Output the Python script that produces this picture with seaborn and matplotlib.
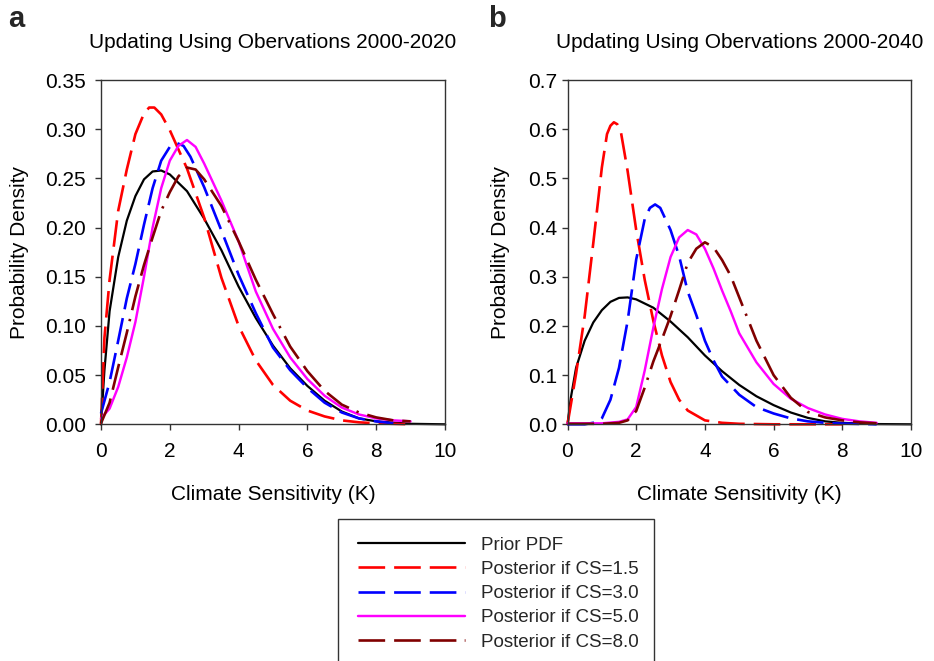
import matplotlib
matplotlib.use("Agg")
import matplotlib.pyplot as plt
import seaborn as sns
from matplotlib.lines import Line2D
from matplotlib.patches import Rectangle
from matplotlib.ticker import FormatStrFormatter

# ---------------- data ----------------
PRIOR_X = [0, 0.1, 0.25, 0.5, 0.75, 1, 1.25, 1.5, 1.75, 2, 2.5, 3, 3.5, 4, 4.5, 5,
           5.5, 6, 6.5, 7, 7.5, 8, 9, 10]
PRIOR_Y = [0, 0.055, 0.115, 0.17, 0.207, 0.232, 0.249, 0.257, 0.258, 0.254, 0.237,
           0.209, 0.177, 0.14, 0.108, 0.08, 0.057, 0.039, 0.024, 0.013, 0.006, 0.003,
           0.0005, 0]

# Panel a: observations 2000-2020
A_CS15_X = [0, 0.1, 0.25, 0.5, 0.75, 1, 1.25, 1.4, 1.55, 1.75, 2, 2.5, 3, 3.5, 4, 4.5,
            5, 5.5, 6, 6.5, 7, 7.5, 8, 9]
A_CS15_Y = [0, 0.088, 0.147, 0.217, 0.259, 0.295, 0.316, 0.322, 0.322, 0.315, 0.299,
            0.26, 0.21, 0.149, 0.1, 0.065, 0.04, 0.024, 0.014, 0.008, 0.004, 0.002,
            0.001, 0]
A_CS30_X = [0, 0.25, 0.5, 0.75, 1, 1.25, 1.5, 1.75, 2, 2.2, 2.4, 2.6, 3, 3.5, 4, 4.5,
            5, 5.5, 6, 6.5, 7, 7.5, 8, 8.5]
A_CS30_Y = [0.011, 0.043, 0.085, 0.128, 0.163, 0.203, 0.24, 0.268, 0.282, 0.286,
            0.283, 0.272, 0.241, 0.197, 0.152, 0.113, 0.078, 0.055, 0.037, 0.022,
            0.012, 0.006, 0.003, 0.001]
A_CS50_X = [0, 0.25, 0.5, 0.75, 1, 1.25, 1.5, 1.75, 2, 2.25, 2.5, 2.75, 3, 3.5, 4,
            4.5, 5, 5.5, 6, 6.5, 7, 7.5, 8, 8.5, 9]
A_CS50_Y = [0.006, 0.016, 0.038, 0.068, 0.104, 0.15, 0.2, 0.24, 0.268, 0.283, 0.289,
            0.282, 0.265, 0.2275, 0.186, 0.135, 0.097, 0.068, 0.046, 0.029, 0.017,
            0.010, 0.006, 0.004, 0.003]
A_CS80_X = [0, 0.25, 0.5, 0.75, 1, 1.25, 1.5, 1.75, 2, 2.25, 2.5, 2.75, 3, 3.5, 4,
            4.5, 5, 5.5, 6, 6.5, 7, 7.5, 8, 8.5, 9]
A_CS80_Y = [0.001, 0.022, 0.058, 0.093, 0.13, 0.162, 0.19, 0.217, 0.236, 0.252, 0.261,
            0.259, 0.249, 0.222, 0.186, 0.147, 0.112, 0.079, 0.054, 0.034, 0.02,
            0.012, 0.007, 0.004, 0.003]

# Panel b: observations 2000-2040
B_CS15_X = [0, 0.25, 0.5, 0.75, 1, 1.15, 1.25, 1.35, 1.45, 1.55, 1.75, 2, 2.25, 2.5,
            2.75, 3, 3.25, 3.5, 4, 4.5, 5, 6, 7, 8]
B_CS15_Y = [0, 0.103, 0.22, 0.368, 0.522, 0.59, 0.607, 0.614, 0.61, 0.596, 0.515,
            0.395, 0.293, 0.21, 0.14, 0.086, 0.05, 0.028, 0.008, 0.003, 0.001, 0, 0, 0]
B_CS30_X = [0, 0.5, 0.9, 1.0, 1.25, 1.5, 1.75, 2.0, 2.25, 2.4, 2.55, 2.7, 3.0, 3.25,
            3.5, 3.75, 4.0, 4.25, 4.5, 5.0, 5.5, 6.0, 6.5, 7.0, 7.5, 8.0, 9.0]
B_CS30_Y = [0, 0, 0.005, 0.012, 0.05, 0.115, 0.21, 0.335, 0.418, 0.44, 0.447, 0.44,
            0.395, 0.342, 0.27, 0.222, 0.17, 0.13, 0.097, 0.06, 0.035, 0.022, 0.012,
            0.006, 0.003, 0.0015, 0]
B_CS50_X = [0, 0.5, 1.0, 1.5, 1.75, 2.0, 2.25, 2.5, 2.75, 3.0, 3.25, 3.5, 3.75, 4.0,
            4.25, 4.5, 4.75, 5.0, 5.5, 6.0, 6.5, 7.0, 7.5, 8.0, 8.5, 9.0]
B_CS50_Y = [0.002, 0.002, 0.002, 0.005, 0.01, 0.035, 0.11, 0.197, 0.275, 0.34, 0.38,
            0.395, 0.386, 0.357, 0.317, 0.272, 0.23, 0.185, 0.126, 0.082, 0.052,
            0.033, 0.02, 0.011, 0.006, 0.003]
B_CS80_X = [0, 0.5, 1.0, 1.5, 1.75, 2.0, 2.25, 2.5, 2.75, 3.0, 3.25, 3.5, 3.75, 4.0,
            4.25, 4.5, 4.75, 5.0, 5.5, 6.0, 6.5, 7.0, 7.5, 8.0, 8.5, 9.0]
B_CS80_Y = [0.001, 0.001, 0.001, 0.003, 0.008, 0.027, 0.075, 0.128, 0.173, 0.22,
            0.273, 0.328, 0.357, 0.37, 0.36, 0.334, 0.302, 0.258, 0.17, 0.1, 0.054,
            0.025, 0.014, 0.008, 0.004, 0.002]

LABELS = ["Prior PDF", "Posterior if CS=1.5", "Posterior if CS=3.0",
          "Posterior if CS=5.0", "Posterior if CS=8.0"]
TITLES = ["Updating Using Obervations 2000-2020", "Updating Using Obervations 2000-2040"]
PANEL_LETTERS = ["a", "b"]
XTICKS = [0, 2, 4, 6, 8, 10]
A_YTICKS = [0.00, 0.05, 0.10, 0.15, 0.20, 0.25, 0.30, 0.35]
B_YTICKS = [0.0, 0.1, 0.2, 0.3, 0.4, 0.5, 0.6, 0.7]

# ---------------- styles ----------------
COLORS = ["#000000", "#FF0000", "#0000FF", "#FF00FF", "#800000"]
DASH = (0, (10.1, 3.4))
DASHDOT = (0, (10.1, 3.4, 10.1, 3.4, 10.1, 3.15, 0.9, 3.4))
STYLES = ["-", DASH, DASH, "-", DASHDOT]
WIDTHS = [1.6, 1.9, 1.9, 1.75, 1.9]

sns.set_theme(style="white")
plt.rcParams["font.family"] = ["Liberation Sans", "DejaVu Sans"]

W, H = 934, 661
fig = plt.figure(figsize=(W / 100, H / 100), dpi=100)


def fx(px):
    return px / W


def fy(py):
    return 1 - py / H


axA = fig.add_axes([fx(101), fy(424.3), (445 - 101) / W, (424.3 - 80) / H])
axB = fig.add_axes([fx(567.5), fy(424.3), (911 - 567.5) / W, (424.3 - 80) / H])

panels = [
    (axA, [(PRIOR_X, PRIOR_Y), (A_CS15_X, A_CS15_Y), (A_CS30_X, A_CS30_Y),
           (A_CS50_X, A_CS50_Y), (A_CS80_X, A_CS80_Y)], A_YTICKS, "%.2f", 0.35, 6.8),
    (axB, [(PRIOR_X, PRIOR_Y), (B_CS15_X, B_CS15_Y), (B_CS30_X, B_CS30_Y),
           (B_CS50_X, B_CS50_Y), (B_CS80_X, B_CS80_Y)], B_YTICKS, "%.1f", 0.7, 3.5),
]

for i, (ax, series, yticks, fmt, ymax, ypad) in enumerate(panels):
    for k, (xs, ys) in enumerate(series):
        sns.lineplot(x=xs, y=ys, ax=ax, color=COLORS[k], linewidth=WIDTHS[k],
                     linestyle=STYLES[k], legend=False, sort=False, clip_on=False)
    ax.set_xlim(0, 10)
    ax.set_ylim(0, ymax)
    ax.set_xticks(XTICKS)
    ax.set_yticks(yticks)
    ax.yaxis.set_major_formatter(FormatStrFormatter(fmt))
    for sp in ax.spines.values():
        sp.set_visible(True)
        sp.set_color("#333333")
        sp.set_linewidth(1.0)
    ax.tick_params(axis="both", which="major", direction="out", length=4, width=1,
                   color="#333333", labelcolor="black", labelsize=15,
                   bottom=True, left=True, top=False, right=False)
    ax.tick_params(axis="x", pad=9)
    ax.tick_params(axis="y", pad=ypad)
    ax.set_xlabel("Climate Sensitivity (K)", fontsize=15, color="black")
    ax.set_ylabel("Probability Density", fontsize=15, color="black")
    ax.xaxis.set_label_coords(0.5, -0.175)
    ax.text(0.5, 1.092, TITLES[i], transform=ax.transAxes, ha="center",
            va="baseline", fontsize=15, color="black")
    ax.set_facecolor("white")

axA.yaxis.set_label_coords(-0.209, 0.5)
axB.yaxis.set_label_coords(-0.167, 0.5)

fig.text(fx(8), fy(27.3), PANEL_LETTERS[0], fontsize=21, fontweight="bold",
         va="baseline", ha="left")
fig.text(fx(488), fy(27.3), PANEL_LETTERS[1], fontsize=21, fontweight="bold",
         va="baseline", ha="left")

# legend
handles = [Line2D([], [], color=COLORS[k], linewidth=WIDTHS[k], linestyle=STYLES[k])
           for k in range(5)]
fig.legend(handles, LABELS, loc="upper left", bbox_to_anchor=(fx(358.3), fy(536.5)),
           bbox_transform=fig.transFigure, borderaxespad=0, borderpad=0,
           frameon=False, fontsize=13.5, handlelength=5.7, handletextpad=0.82,
           labelspacing=0.38)
fig.patches.append(Rectangle((fx(338.3), fy(668)), (654 - 338.3) / W, (668 - 519.3) / H,
                             transform=fig.transFigure, fill=False,
                             edgecolor="#333333", linewidth=1.0, clip_on=False))

fig.savefig("out.png", dpi=100, facecolor="white")
